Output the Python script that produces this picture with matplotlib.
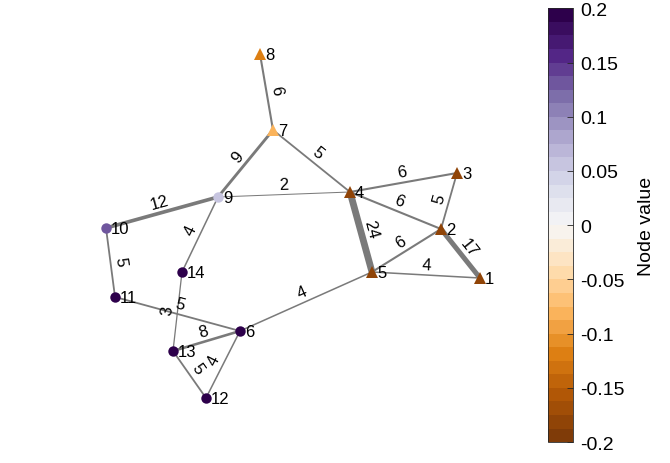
import numpy as np
import matplotlib.pyplot as plt
from matplotlib import colors

plt.rcParams["font.family"] = ["Liberation Sans", "DejaVu Sans"]

# node layout and node values
node_x = [480, 441, 457, 350, 372, 240, 273, 260, 218, 106, 115, 206, 173, 182]
node_y = [279, 230, 174, 193, 273, 332, 131, 55, 198, 229, 298, 399, 352, 273]
node_val = [-0.185, -0.185, -0.185, -0.185, -0.185, 0.2, -0.085, -0.12,
            0.055, 0.13, 0.2, 0.2, 0.2, 0.2]

# edges (1-based node ids) and weights
edge_src = [8, 7, 7, 9, 9, 9, 10, 11, 14, 13, 13, 12, 6, 4, 4, 4, 3, 2, 2, 5]
edge_dst = [7, 9, 4, 4, 10, 14, 11, 6, 13, 6, 12, 6, 5, 3, 2, 5, 2, 5, 1, 1]
edge_w = [6, 9, 5, 2, 12, 4, 5, 5, 3, 8, 5, 4, 4, 6, 6, 24, 5, 6, 17, 4]

cbar_ticks = [-0.2, -0.15, -0.1, -0.05, 0, 0.05, 0.1, 0.15, 0.2]
cbar_labels = ["-0.2", "-0.15", "-0.1", "-0.05", "0", "0.05", "0.1", "0.15", "0.2"]

fig = plt.figure(figsize=(6.7, 4.64), dpi=100)
ax = fig.add_axes([0, 0, 1, 1])
ax.set_xlim(0, 670)
ax.set_ylim(464, 0)
ax.axis("off")

cmap = plt.get_cmap("PuOr").resampled(32)
norm = colors.Normalize(vmin=-0.2, vmax=0.2)

for s, d, w in zip(edge_src, edge_dst, edge_w):
    x0, y0 = node_x[s - 1], node_y[s - 1]
    x1, y1 = node_x[d - 1], node_y[d - 1]
    ax.plot([x0, x1], [y0, y1], color="#7a7a7a", lw=0.35 + 0.19 * w,
            solid_capstyle="butt", zorder=1)
    # angle in display space
    p0 = ax.transData.transform((x0, y0))
    p1 = ax.transData.transform((x1, y1))
    ang = np.degrees(np.arctan2(p1[1] - p0[1], p1[0] - p0[0]))
    if ang > 90:
        ang -= 180
    elif ang < -90:
        ang += 180
    ux, uy = -np.sin(np.radians(ang)), np.cos(np.radians(ang))
    ax.annotate(str(w), ((x0 + x1) / 2, (y0 + y1) / 2),
                xytext=(7.5 * ux, 7.5 * uy), textcoords="offset points",
                rotation=ang, rotation_mode="anchor", ha="center", va="center",
                fontsize=12, color="black", zorder=2)

for i, (x, y, v) in enumerate(zip(node_x, node_y, node_val)):
    if v < 0:
        ax.plot(x, y, marker="^", ms=9, color=cmap(norm(v)),
                markeredgewidth=0, zorder=3)
    else:
        ax.plot(x, y, marker="o", ms=7.5, color=cmap(norm(v)),
                markeredgewidth=0, zorder=3)
    ax.text(x + 5, y + 1, str(i + 1), ha="left", va="center", fontsize=12,
            zorder=4)

cax = fig.add_axes([0.818, 0.045, 0.037, 0.935])
sm = plt.cm.ScalarMappable(norm=norm, cmap=cmap)
cb = fig.colorbar(sm, cax=cax)
cb.set_ticks(cbar_ticks)
cb.set_ticklabels(cbar_labels)
cb.ax.tick_params(direction="in", length=4, width=0.6, labelsize=14,
                  color="#262626", pad=5)
cb.outline.set_linewidth(0.6)
cb.outline.set_edgecolor("#262626")
cb.set_label("Node value", fontsize=14, labelpad=10)

fig.savefig("out.png", dpi=100)
